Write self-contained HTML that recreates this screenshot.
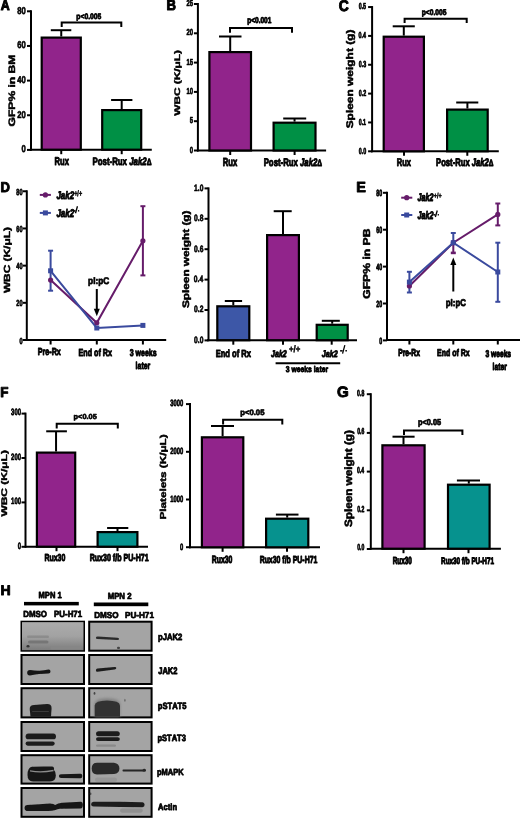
<!DOCTYPE html>
<html><head><meta charset="utf-8"><style>
html,body{margin:0;padding:0;background:#fff;}
svg{display:block;will-change:transform;}
text{font-family:"Liberation Sans",sans-serif;font-kerning:none;text-rendering:geometricPrecision;}
</style></head><body>
<svg width="520" height="819" viewBox="0 0 520 819">
<text transform="translate(0.74,10.18) scale(0.8554,1)" font-size="14.46" fill="#000" stroke="#000" stroke-width="1.049" stroke-linejoin="round" ><tspan font-weight="bold">A</tspan></text>
<line x1="31.00" y1="10.30" x2="31.00" y2="150.70" stroke="#000" stroke-width="2" stroke-linecap="butt"/>
<line x1="27.00" y1="11.30" x2="31.00" y2="11.30" stroke="#000" stroke-width="2" stroke-linecap="butt"/>
<text transform="translate(17.14,13.69) scale(0.7803,1)" font-size="9.85" fill="#000" stroke="#000" stroke-width="0.577" stroke-linejoin="round"><tspan font-weight="bold">80</tspan></text>
<line x1="27.00" y1="45.95" x2="31.00" y2="45.95" stroke="#000" stroke-width="2" stroke-linecap="butt"/>
<text transform="translate(17.14,48.34) scale(0.7803,1)" font-size="9.85" fill="#000" stroke="#000" stroke-width="0.577" stroke-linejoin="round"><tspan font-weight="bold">60</tspan></text>
<line x1="27.00" y1="80.60" x2="31.00" y2="80.60" stroke="#000" stroke-width="2" stroke-linecap="butt"/>
<text transform="translate(17.14,82.99) scale(0.7803,1)" font-size="9.85" fill="#000" stroke="#000" stroke-width="0.577" stroke-linejoin="round"><tspan font-weight="bold">40</tspan></text>
<line x1="27.00" y1="115.25" x2="31.00" y2="115.25" stroke="#000" stroke-width="2" stroke-linecap="butt"/>
<text transform="translate(17.14,117.64) scale(0.7803,1)" font-size="9.85" fill="#000" stroke="#000" stroke-width="0.577" stroke-linejoin="round"><tspan font-weight="bold">20</tspan></text>
<line x1="27.00" y1="149.90" x2="31.00" y2="149.90" stroke="#000" stroke-width="2" stroke-linecap="butt"/>
<text transform="translate(21.42,152.29) scale(0.7803,1)" font-size="9.85" fill="#000" stroke="#000" stroke-width="0.577" stroke-linejoin="round"><tspan font-weight="bold">0</tspan></text>
<line x1="30.00" y1="149.70" x2="151.80" y2="149.70" stroke="#000" stroke-width="2" stroke-linecap="butt"/>
<line x1="61.25" y1="149.70" x2="61.25" y2="154.20" stroke="#000" stroke-width="2" stroke-linecap="butt"/>
<line x1="121.70" y1="149.70" x2="121.70" y2="154.20" stroke="#000" stroke-width="2" stroke-linecap="butt"/>
<rect x="41.70" y="37.60" width="39.10" height="112.10" fill="#91248B" stroke="#000" stroke-width="2.2"/>
<line x1="61.25" y1="30.20" x2="61.25" y2="36.50" stroke="#000" stroke-width="2" stroke-linecap="butt"/>
<line x1="50.80" y1="30.20" x2="71.30" y2="30.20" stroke="#000" stroke-width="2" stroke-linecap="butt"/>
<rect x="102.20" y="110.10" width="39.00" height="39.60" fill="#009045" stroke="#000" stroke-width="2.2"/>
<line x1="121.70" y1="100.00" x2="121.70" y2="109.00" stroke="#000" stroke-width="2" stroke-linecap="butt"/>
<line x1="111.10" y1="100.00" x2="132.40" y2="100.00" stroke="#000" stroke-width="2" stroke-linecap="butt"/>
<polyline fill="none" stroke="#000" stroke-width="2" stroke-linejoin="miter" points="61.70,27.00 61.70,22.50 121.30,22.50 121.30,27.00"/>
<text transform="translate(76.35,19.29) scale(0.8583,1)" font-size="7.89" fill="#000" stroke="#000" stroke-width="0.754" stroke-linejoin="round" ><tspan font-weight="bold">p&lt;0.005</tspan></text>
<text transform="translate(54.59,165.11) scale(0.6686,1)" font-size="11.37" fill="#000" stroke="#000" stroke-width="0.965" stroke-linejoin="round" ><tspan font-weight="bold">Rux</tspan></text>
<text transform="translate(92.47,164.94) scale(0.7315,1)" font-size="10.75" fill="#000" stroke="#000" stroke-width="0.905" stroke-linejoin="round" ><tspan font-weight="bold">Post-Rux </tspan><tspan font-weight="bold" font-style="italic">Jak2</tspan><tspan font-weight="bold" font-size="85%">Δ</tspan></text>
<text transform="translate(14.87,126.50) rotate(-90) scale(1.3060,1)" font-size="9.28" fill="#000" stroke="#000" stroke-width="0.488" stroke-linejoin="round" ><tspan font-weight="bold">GFP% in BM</tspan></text>
<text transform="translate(166.47,10.30) scale(0.8931,1)" font-size="14.69" fill="#000" stroke="#000" stroke-width="0.995" stroke-linejoin="round" ><tspan font-weight="bold">B</tspan></text>
<line x1="197.90" y1="3.00" x2="197.90" y2="151.50" stroke="#000" stroke-width="2" stroke-linecap="butt"/>
<line x1="193.90" y1="4.00" x2="197.90" y2="4.00" stroke="#000" stroke-width="2" stroke-linecap="butt"/>
<text transform="translate(186.45,6.09) scale(0.6820,1)" font-size="8.68" fill="#000" stroke="#000" stroke-width="0.660" stroke-linejoin="round"><tspan font-weight="bold">25</tspan></text>
<line x1="193.90" y1="33.30" x2="197.90" y2="33.30" stroke="#000" stroke-width="2" stroke-linecap="butt"/>
<text transform="translate(186.53,35.39) scale(0.6820,1)" font-size="8.68" fill="#000" stroke="#000" stroke-width="0.660" stroke-linejoin="round"><tspan font-weight="bold">20</tspan></text>
<line x1="193.90" y1="62.60" x2="197.90" y2="62.60" stroke="#000" stroke-width="2" stroke-linecap="butt"/>
<text transform="translate(186.45,64.64) scale(0.6820,1)" font-size="8.68" fill="#000" stroke="#000" stroke-width="0.660" stroke-linejoin="round"><tspan font-weight="bold">15</tspan></text>
<line x1="193.90" y1="91.90" x2="197.90" y2="91.90" stroke="#000" stroke-width="2" stroke-linecap="butt"/>
<text transform="translate(186.53,93.99) scale(0.6820,1)" font-size="8.68" fill="#000" stroke="#000" stroke-width="0.660" stroke-linejoin="round"><tspan font-weight="bold">10</tspan></text>
<line x1="193.90" y1="121.20" x2="197.90" y2="121.20" stroke="#000" stroke-width="2" stroke-linecap="butt"/>
<text transform="translate(189.75,123.24) scale(0.6820,1)" font-size="8.68" fill="#000" stroke="#000" stroke-width="0.660" stroke-linejoin="round"><tspan font-weight="bold">5</tspan></text>
<line x1="193.90" y1="150.50" x2="197.90" y2="150.50" stroke="#000" stroke-width="2" stroke-linecap="butt"/>
<text transform="translate(189.82,152.59) scale(0.6820,1)" font-size="8.68" fill="#000" stroke="#000" stroke-width="0.660" stroke-linejoin="round"><tspan font-weight="bold">0</tspan></text>
<line x1="197.00" y1="150.50" x2="326.10" y2="150.50" stroke="#000" stroke-width="2" stroke-linecap="butt"/>
<line x1="230.20" y1="150.50" x2="230.20" y2="155.00" stroke="#000" stroke-width="2" stroke-linecap="butt"/>
<line x1="294.60" y1="150.50" x2="294.60" y2="155.00" stroke="#000" stroke-width="2" stroke-linecap="butt"/>
<rect x="209.40" y="52.10" width="41.60" height="98.40" fill="#91248B" stroke="#000" stroke-width="2.2"/>
<line x1="230.20" y1="36.50" x2="230.20" y2="51.00" stroke="#000" stroke-width="2" stroke-linecap="butt"/>
<line x1="219.00" y1="36.50" x2="241.50" y2="36.50" stroke="#000" stroke-width="2" stroke-linecap="butt"/>
<rect x="273.60" y="122.70" width="41.90" height="27.80" fill="#009045" stroke="#000" stroke-width="2.2"/>
<line x1="294.55" y1="118.50" x2="294.55" y2="121.60" stroke="#000" stroke-width="2" stroke-linecap="butt"/>
<line x1="283.20" y1="118.50" x2="306.20" y2="118.50" stroke="#000" stroke-width="2" stroke-linecap="butt"/>
<polyline fill="none" stroke="#000" stroke-width="2" stroke-linejoin="miter" points="230.00,32.70 230.00,27.90 292.00,27.90 292.00,32.70"/>
<text transform="translate(247.17,23.33) scale(0.7743,1)" font-size="8.46" fill="#000" stroke="#000" stroke-width="0.838" stroke-linejoin="round" ><tspan font-weight="bold">p&lt;0.001</tspan></text>
<text transform="translate(222.79,165.80) scale(0.6581,1)" font-size="11.64" fill="#000" stroke="#000" stroke-width="0.979" stroke-linejoin="round" ><tspan font-weight="bold">Rux</tspan></text>
<text transform="translate(263.68,165.93) scale(0.7098,1)" font-size="10.98" fill="#000" stroke="#000" stroke-width="0.933" stroke-linejoin="round" ><tspan font-weight="bold">Post-Rux </tspan><tspan font-weight="bold" font-style="italic">Jak2</tspan><tspan font-weight="bold" font-size="85%">Δ</tspan></text>
<text transform="translate(179.50,115.71) rotate(-90) scale(1.4588,1)" font-size="8.12" fill="#000" stroke="#000" stroke-width="0.431" stroke-linejoin="round" ><tspan font-weight="bold">WBC (K/μL)</tspan></text>
<text transform="translate(338.78,10.85) scale(0.8956,1)" font-size="15.54" fill="#000" stroke="#000" stroke-width="0.997" stroke-linejoin="round" ><tspan font-weight="bold">C</tspan></text>
<line x1="372.10" y1="6.05" x2="372.10" y2="152.30" stroke="#000" stroke-width="2" stroke-linecap="butt"/>
<line x1="368.10" y1="7.05" x2="372.10" y2="7.05" stroke="#000" stroke-width="2" stroke-linecap="butt"/>
<text transform="translate(358.63,9.25) scale(0.6180,1)" font-size="8.72" fill="#000" stroke="#000" stroke-width="0.728" stroke-linejoin="round"><tspan font-weight="bold">0.5</tspan></text>
<line x1="368.10" y1="35.90" x2="372.10" y2="35.90" stroke="#000" stroke-width="2" stroke-linecap="butt"/>
<text transform="translate(358.51,38.10) scale(0.6180,1)" font-size="8.72" fill="#000" stroke="#000" stroke-width="0.728" stroke-linejoin="round"><tspan font-weight="bold">0.4</tspan></text>
<line x1="368.10" y1="64.75" x2="372.10" y2="64.75" stroke="#000" stroke-width="2" stroke-linecap="butt"/>
<text transform="translate(358.68,66.95) scale(0.6180,1)" font-size="8.72" fill="#000" stroke="#000" stroke-width="0.728" stroke-linejoin="round"><tspan font-weight="bold">0.3</tspan></text>
<line x1="368.10" y1="93.60" x2="372.10" y2="93.60" stroke="#000" stroke-width="2" stroke-linecap="butt"/>
<text transform="translate(358.70,95.80) scale(0.6180,1)" font-size="8.72" fill="#000" stroke="#000" stroke-width="0.728" stroke-linejoin="round"><tspan font-weight="bold">0.2</tspan></text>
<line x1="368.10" y1="122.45" x2="372.10" y2="122.45" stroke="#000" stroke-width="2" stroke-linecap="butt"/>
<text transform="translate(358.63,124.65) scale(0.6180,1)" font-size="8.72" fill="#000" stroke="#000" stroke-width="0.728" stroke-linejoin="round"><tspan font-weight="bold">0.1</tspan></text>
<line x1="368.10" y1="151.30" x2="372.10" y2="151.30" stroke="#000" stroke-width="2" stroke-linecap="butt"/>
<text transform="translate(358.70,153.50) scale(0.6180,1)" font-size="8.72" fill="#000" stroke="#000" stroke-width="0.728" stroke-linejoin="round"><tspan font-weight="bold">0.0</tspan></text>
<line x1="371.00" y1="151.30" x2="498.80" y2="151.30" stroke="#000" stroke-width="2" stroke-linecap="butt"/>
<line x1="404.00" y1="151.30" x2="404.00" y2="155.80" stroke="#000" stroke-width="2" stroke-linecap="butt"/>
<line x1="467.30" y1="151.30" x2="467.30" y2="155.80" stroke="#000" stroke-width="2" stroke-linecap="butt"/>
<rect x="383.70" y="36.70" width="40.20" height="114.60" fill="#91248B" stroke="#000" stroke-width="2.2"/>
<line x1="403.80" y1="26.30" x2="403.80" y2="35.60" stroke="#000" stroke-width="2" stroke-linecap="butt"/>
<line x1="392.70" y1="26.30" x2="414.80" y2="26.30" stroke="#000" stroke-width="2" stroke-linecap="butt"/>
<rect x="447.10" y="109.60" width="40.60" height="41.70" fill="#009045" stroke="#000" stroke-width="2.2"/>
<line x1="467.40" y1="102.50" x2="467.40" y2="108.50" stroke="#000" stroke-width="2" stroke-linecap="butt"/>
<line x1="456.20" y1="102.50" x2="478.30" y2="102.50" stroke="#000" stroke-width="2" stroke-linecap="butt"/>
<polyline fill="none" stroke="#000" stroke-width="2" stroke-linejoin="miter" points="404.60,23.00 404.60,18.70 466.70,18.70 466.70,23.00"/>
<text transform="translate(421.76,14.51) scale(0.8208,1)" font-size="8.18" fill="#000" stroke="#000" stroke-width="0.789" stroke-linejoin="round" ><tspan font-weight="bold">p&lt;0.005</tspan></text>
<text transform="translate(396.80,166.11) scale(0.6752,1)" font-size="11.10" fill="#000" stroke="#000" stroke-width="0.956" stroke-linejoin="round" ><tspan font-weight="bold">Rux</tspan></text>
<text transform="translate(436.09,166.32) scale(0.6978,1)" font-size="10.96" fill="#000" stroke="#000" stroke-width="0.951" stroke-linejoin="round" ><tspan font-weight="bold">Post-Rux </tspan><tspan font-weight="bold" font-style="italic">Jak2</tspan><tspan font-weight="bold" font-size="85%">Δ</tspan></text>
<text transform="translate(352.51,128.34) rotate(-90) scale(1.2434,1)" font-size="9.60" fill="#000" stroke="#000" stroke-width="0.507" stroke-linejoin="round" ><tspan font-weight="bold">Spleen weight (g)</tspan></text>
<text transform="translate(0.48,191.82) scale(0.9218,1)" font-size="14.15" fill="#000" stroke="#000" stroke-width="0.965" stroke-linejoin="round" ><tspan font-weight="bold">D</tspan></text>
<line x1="26.80" y1="190.28" x2="26.80" y2="341.00" stroke="#000" stroke-width="2" stroke-linecap="butt"/>
<line x1="22.80" y1="191.28" x2="26.80" y2="191.28" stroke="#000" stroke-width="2" stroke-linecap="butt"/>
<text transform="translate(16.25,194.90) scale(0.6417,1)" font-size="8.77" fill="#000" stroke="#000" stroke-width="0.701" stroke-linejoin="round"><tspan font-weight="bold">80</tspan></text>
<line x1="22.80" y1="228.46" x2="26.80" y2="228.46" stroke="#000" stroke-width="2" stroke-linecap="butt"/>
<text transform="translate(16.25,232.08) scale(0.6417,1)" font-size="8.77" fill="#000" stroke="#000" stroke-width="0.701" stroke-linejoin="round"><tspan font-weight="bold">60</tspan></text>
<line x1="22.80" y1="265.64" x2="26.80" y2="265.64" stroke="#000" stroke-width="2" stroke-linecap="butt"/>
<text transform="translate(16.25,269.26) scale(0.6417,1)" font-size="8.77" fill="#000" stroke="#000" stroke-width="0.701" stroke-linejoin="round"><tspan font-weight="bold">40</tspan></text>
<line x1="22.80" y1="302.82" x2="26.80" y2="302.82" stroke="#000" stroke-width="2" stroke-linecap="butt"/>
<text transform="translate(16.25,306.44) scale(0.6417,1)" font-size="8.77" fill="#000" stroke="#000" stroke-width="0.701" stroke-linejoin="round"><tspan font-weight="bold">20</tspan></text>
<line x1="22.80" y1="340.00" x2="26.80" y2="340.00" stroke="#000" stroke-width="2" stroke-linecap="butt"/>
<text transform="translate(19.38,343.62) scale(0.6417,1)" font-size="8.77" fill="#000" stroke="#000" stroke-width="0.701" stroke-linejoin="round"><tspan font-weight="bold">0</tspan></text>
<line x1="26.00" y1="340.00" x2="166.20" y2="340.00" stroke="#000" stroke-width="2" stroke-linecap="butt"/>
<line x1="50.60" y1="340.00" x2="50.60" y2="344.50" stroke="#000" stroke-width="2" stroke-linecap="butt"/>
<line x1="96.80" y1="340.00" x2="96.80" y2="344.50" stroke="#000" stroke-width="2" stroke-linecap="butt"/>
<line x1="142.90" y1="340.00" x2="142.90" y2="344.50" stroke="#000" stroke-width="2" stroke-linecap="butt"/>
<text transform="translate(37.82,355.43) scale(0.7059,1)" font-size="10.12" fill="#000" stroke="#000" stroke-width="0.938" stroke-linejoin="round" ><tspan font-weight="bold">Pre-Rx</tspan></text>
<text transform="translate(78.52,355.63) scale(0.7053,1)" font-size="10.16" fill="#000" stroke="#000" stroke-width="0.941" stroke-linejoin="round" ><tspan font-weight="bold">End of Rx</tspan></text>
<text transform="translate(129.74,355.52) scale(0.7111,1)" font-size="9.88" fill="#000" stroke="#000" stroke-width="0.931" stroke-linejoin="round" ><tspan font-weight="bold">3 weeks</tspan></text>
<text transform="translate(135.61,368.94) scale(0.7020,1)" font-size="9.91" fill="#000" stroke="#000" stroke-width="0.924" stroke-linejoin="round" ><tspan font-weight="bold">later</tspan></text>
<text transform="translate(10.03,293.11) rotate(-90) scale(1.3453,1)" font-size="8.83" fill="#000" stroke="#000" stroke-width="0.467" stroke-linejoin="round" ><tspan font-weight="bold">WBC (K/μL)</tspan></text>
<line x1="50.60" y1="250.70" x2="50.60" y2="290.70" stroke="#3A4A9E" stroke-width="2" stroke-linecap="butt"/>
<line x1="48.10" y1="250.70" x2="53.10" y2="250.70" stroke="#3A4A9E" stroke-width="2" stroke-linecap="butt"/>
<line x1="48.10" y1="290.70" x2="53.10" y2="290.70" stroke="#3A4A9E" stroke-width="2" stroke-linecap="butt"/>
<line x1="142.90" y1="206.20" x2="142.90" y2="275.40" stroke="#661C6A" stroke-width="2" stroke-linecap="butt"/>
<line x1="140.40" y1="206.20" x2="145.40" y2="206.20" stroke="#661C6A" stroke-width="2" stroke-linecap="butt"/>
<line x1="140.40" y1="275.40" x2="145.40" y2="275.40" stroke="#661C6A" stroke-width="2" stroke-linecap="butt"/>
<polyline fill="none" stroke="#661C6A" stroke-width="2" stroke-linejoin="miter" points="50.60,280.10 96.80,322.80 142.90,240.80"/>
<polyline fill="none" stroke="#3A4A9E" stroke-width="2" stroke-linejoin="miter" points="50.60,270.80 96.80,328.00 142.90,325.40"/>
<circle cx="50.60" cy="280.10" r="2.6" fill="#661C6A"/>
<circle cx="96.80" cy="322.80" r="2.6" fill="#661C6A"/>
<circle cx="142.90" cy="240.80" r="2.6" fill="#661C6A"/>
<rect x="48.10" y="268.30" width="5" height="5" fill="#3A4A9E"/>
<rect x="94.30" y="325.50" width="5" height="5" fill="#3A4A9E"/>
<rect x="140.40" y="322.90" width="5" height="5" fill="#3A4A9E"/>
<line x1="96.80" y1="289.00" x2="96.80" y2="310.00" stroke="#000" stroke-width="2" stroke-linecap="butt"/>
<polygon points="93.8,308.8 99.8,308.8 96.8,316.2" fill="#000"/>
<text transform="translate(88.05,284.32) scale(0.8606,1)" font-size="9.68" fill="#000" stroke="#000" stroke-width="0.734" stroke-linejoin="round" ><tspan font-weight="bold">pI:pC</tspan></text>
<line x1="39.80" y1="194.90" x2="50.90" y2="194.90" stroke="#661C6A" stroke-width="2" stroke-linecap="butt"/>
<circle cx="45.40" cy="194.90" r="2.6" fill="#661C6A"/>
<line x1="39.80" y1="212.90" x2="50.90" y2="212.90" stroke="#3A4A9E" stroke-width="2" stroke-linecap="butt"/>
<rect x="42.90" y="210.40" width="5" height="5" fill="#3A4A9E"/>
<text transform="translate(56.40,199.35) scale(0.7318,1)" font-size="10.92" fill="#000" stroke="#000" stroke-width="0.880" stroke-linejoin="round" ><tspan font-weight="bold" font-style="italic">Jak2</tspan></text>
<text transform="translate(74.14,195.68) scale(0.7012,1)" font-size="7.90" fill="#000" stroke="#000" stroke-width="0.519" stroke-linejoin="round" ><tspan font-weight="bold">+/+</tspan></text>
<text transform="translate(56.40,216.64) scale(0.7157,1)" font-size="11.17" fill="#000" stroke="#000" stroke-width="0.900" stroke-linejoin="round" ><tspan font-weight="bold" font-style="italic">Jak2</tspan></text>
<line x1="73.40" y1="210.89" x2="75.55" y2="210.89" stroke="#000" stroke-width="1.5" stroke-linecap="butt"/>
<line x1="75.49" y1="213.20" x2="77.46" y2="206.20" stroke="#000" stroke-width="1.3" stroke-linecap="butt"/>
<line x1="77.92" y1="210.82" x2="79.20" y2="210.82" stroke="#000" stroke-width="1.5" stroke-linecap="butt"/>
<line x1="208.50" y1="187.40" x2="208.50" y2="341.20" stroke="#000" stroke-width="2" stroke-linecap="butt"/>
<line x1="204.50" y1="188.40" x2="208.50" y2="188.40" stroke="#000" stroke-width="2" stroke-linecap="butt"/>
<text transform="translate(194.10,190.87) scale(0.7304,1)" font-size="9.21" fill="#000" stroke="#000" stroke-width="0.616" stroke-linejoin="round"><tspan font-weight="bold">1.0</tspan></text>
<line x1="204.50" y1="218.80" x2="208.50" y2="218.80" stroke="#000" stroke-width="2" stroke-linecap="butt"/>
<text transform="translate(194.03,221.27) scale(0.7304,1)" font-size="9.21" fill="#000" stroke="#000" stroke-width="0.616" stroke-linejoin="round"><tspan font-weight="bold">0.8</tspan></text>
<line x1="204.50" y1="249.20" x2="208.50" y2="249.20" stroke="#000" stroke-width="2" stroke-linecap="butt"/>
<text transform="translate(194.07,251.67) scale(0.7304,1)" font-size="9.21" fill="#000" stroke="#000" stroke-width="0.616" stroke-linejoin="round"><tspan font-weight="bold">0.6</tspan></text>
<line x1="204.50" y1="279.60" x2="208.50" y2="279.60" stroke="#000" stroke-width="2" stroke-linecap="butt"/>
<text transform="translate(193.86,282.07) scale(0.7304,1)" font-size="9.21" fill="#000" stroke="#000" stroke-width="0.616" stroke-linejoin="round"><tspan font-weight="bold">0.4</tspan></text>
<line x1="204.50" y1="310.00" x2="208.50" y2="310.00" stroke="#000" stroke-width="2" stroke-linecap="butt"/>
<text transform="translate(194.09,312.47) scale(0.7304,1)" font-size="9.21" fill="#000" stroke="#000" stroke-width="0.616" stroke-linejoin="round"><tspan font-weight="bold">0.2</tspan></text>
<line x1="204.50" y1="340.40" x2="208.50" y2="340.40" stroke="#000" stroke-width="2" stroke-linecap="butt"/>
<text transform="translate(194.10,342.87) scale(0.7304,1)" font-size="9.21" fill="#000" stroke="#000" stroke-width="0.616" stroke-linejoin="round"><tspan font-weight="bold">0.0</tspan></text>
<line x1="207.00" y1="340.20" x2="357.00" y2="340.20" stroke="#000" stroke-width="2" stroke-linecap="butt"/>
<line x1="233.30" y1="340.20" x2="233.30" y2="344.70" stroke="#000" stroke-width="2" stroke-linecap="butt"/>
<line x1="283.00" y1="340.20" x2="283.00" y2="344.70" stroke="#000" stroke-width="2" stroke-linecap="butt"/>
<line x1="331.70" y1="340.20" x2="331.70" y2="344.70" stroke="#000" stroke-width="2" stroke-linecap="butt"/>
<rect x="217.30" y="306.30" width="32.00" height="33.90" fill="#3D57A7" stroke="#000" stroke-width="2.2"/>
<line x1="233.30" y1="301.00" x2="233.30" y2="305.20" stroke="#000" stroke-width="2" stroke-linecap="butt"/>
<line x1="224.80" y1="301.00" x2="242.10" y2="301.00" stroke="#000" stroke-width="2" stroke-linecap="butt"/>
<rect x="267.10" y="235.10" width="31.80" height="105.10" fill="#91248B" stroke="#000" stroke-width="2.2"/>
<line x1="283.00" y1="211.20" x2="283.00" y2="234.00" stroke="#000" stroke-width="2" stroke-linecap="butt"/>
<line x1="273.70" y1="211.20" x2="291.70" y2="211.20" stroke="#000" stroke-width="2" stroke-linecap="butt"/>
<rect x="316.70" y="324.80" width="31.00" height="15.40" fill="#009045" stroke="#000" stroke-width="2.2"/>
<line x1="332.20" y1="320.80" x2="332.20" y2="323.70" stroke="#000" stroke-width="2" stroke-linecap="butt"/>
<line x1="321.80" y1="320.80" x2="339.80" y2="320.80" stroke="#000" stroke-width="2" stroke-linecap="butt"/>
<text transform="translate(215.69,356.75) scale(0.7305,1)" font-size="10.34" fill="#000" stroke="#000" stroke-width="0.903" stroke-linejoin="round" ><tspan font-weight="bold">End of Rx</tspan></text>
<text transform="translate(271.01,357.36) scale(0.7315,1)" font-size="9.68" fill="#000" stroke="#000" stroke-width="0.888" stroke-linejoin="round" ><tspan font-weight="bold" font-style="italic">Jak2</tspan></text>
<text transform="translate(288.97,352.28) scale(0.8572,1)" font-size="9.16" fill="#000" stroke="#000" stroke-width="0.482" stroke-linejoin="round" ><tspan font-weight="bold">+/+</tspan></text>
<text transform="translate(321.81,357.18) scale(0.7588,1)" font-size="9.46" fill="#000" stroke="#000" stroke-width="0.856" stroke-linejoin="round" ><tspan font-weight="bold" font-style="italic">Jak2</tspan></text>
<line x1="340.10" y1="350.83" x2="342.62" y2="350.83" stroke="#000" stroke-width="1.5" stroke-linecap="butt"/>
<line x1="342.55" y1="353.60" x2="344.86" y2="345.20" stroke="#000" stroke-width="1.3" stroke-linecap="butt"/>
<line x1="345.40" y1="350.74" x2="346.90" y2="350.74" stroke="#000" stroke-width="1.5" stroke-linecap="butt"/>
<line x1="275.60" y1="363.20" x2="340.20" y2="363.20" stroke="#000" stroke-width="2" stroke-linecap="butt"/>
<text transform="translate(285.84,372.49) scale(0.8093,1)" font-size="8.39" fill="#000" stroke="#000" stroke-width="0.829" stroke-linejoin="round" ><tspan font-weight="bold">3 weeks later</tspan></text>
<text transform="translate(188.56,308.04) rotate(-90) scale(1.2567,1)" font-size="9.39" fill="#000" stroke="#000" stroke-width="0.502" stroke-linejoin="round" ><tspan font-weight="bold">Spleen weight (g)</tspan></text>
<text transform="translate(356.28,192.05) scale(0.9832,1)" font-size="14.68" fill="#000" stroke="#000" stroke-width="0.897" stroke-linejoin="round" ><tspan font-weight="bold">E</tspan></text>
<line x1="387.00" y1="191.80" x2="387.00" y2="341.00" stroke="#000" stroke-width="2" stroke-linecap="butt"/>
<line x1="383.00" y1="192.80" x2="387.00" y2="192.80" stroke="#000" stroke-width="2" stroke-linecap="butt"/>
<text transform="translate(376.23,196.39) scale(0.5984,1)" font-size="8.96" fill="#000" stroke="#000" stroke-width="0.752" stroke-linejoin="round"><tspan font-weight="bold">80</tspan></text>
<line x1="383.00" y1="229.70" x2="387.00" y2="229.70" stroke="#000" stroke-width="2" stroke-linecap="butt"/>
<text transform="translate(376.23,233.29) scale(0.5984,1)" font-size="8.96" fill="#000" stroke="#000" stroke-width="0.752" stroke-linejoin="round"><tspan font-weight="bold">60</tspan></text>
<line x1="383.00" y1="266.60" x2="387.00" y2="266.60" stroke="#000" stroke-width="2" stroke-linecap="butt"/>
<text transform="translate(376.23,270.19) scale(0.5984,1)" font-size="8.96" fill="#000" stroke="#000" stroke-width="0.752" stroke-linejoin="round"><tspan font-weight="bold">40</tspan></text>
<line x1="383.00" y1="303.50" x2="387.00" y2="303.50" stroke="#000" stroke-width="2" stroke-linecap="butt"/>
<text transform="translate(376.23,307.09) scale(0.5984,1)" font-size="8.96" fill="#000" stroke="#000" stroke-width="0.752" stroke-linejoin="round"><tspan font-weight="bold">20</tspan></text>
<line x1="383.00" y1="340.40" x2="387.00" y2="340.40" stroke="#000" stroke-width="2" stroke-linecap="butt"/>
<text transform="translate(379.21,343.99) scale(0.5984,1)" font-size="8.96" fill="#000" stroke="#000" stroke-width="0.752" stroke-linejoin="round"><tspan font-weight="bold">0</tspan></text>
<line x1="386.00" y1="340.00" x2="520.00" y2="340.00" stroke="#000" stroke-width="2" stroke-linecap="butt"/>
<line x1="409.40" y1="340.00" x2="409.40" y2="344.50" stroke="#000" stroke-width="2" stroke-linecap="butt"/>
<line x1="453.30" y1="340.00" x2="453.30" y2="344.50" stroke="#000" stroke-width="2" stroke-linecap="butt"/>
<line x1="497.80" y1="340.00" x2="497.80" y2="344.50" stroke="#000" stroke-width="2" stroke-linecap="butt"/>
<text transform="translate(398.25,356.31) scale(0.6704,1)" font-size="10.04" fill="#000" stroke="#000" stroke-width="0.994" stroke-linejoin="round" ><tspan font-weight="bold">Pre-Rx</tspan></text>
<text transform="translate(437.03,356.14) scale(0.7159,1)" font-size="9.76" fill="#000" stroke="#000" stroke-width="0.929" stroke-linejoin="round" ><tspan font-weight="bold">End of Rx</tspan></text>
<text transform="translate(485.45,356.50) scale(0.6806,1)" font-size="9.82" fill="#000" stroke="#000" stroke-width="0.978" stroke-linejoin="round" ><tspan font-weight="bold">3 weeks</tspan></text>
<text transform="translate(492.62,369.93) scale(0.6889,1)" font-size="9.88" fill="#000" stroke="#000" stroke-width="0.943" stroke-linejoin="round" ><tspan font-weight="bold">later</tspan></text>
<text transform="translate(370.24,298.80) rotate(-90) scale(1.2125,1)" font-size="10.04" fill="#000" stroke="#000" stroke-width="0.526" stroke-linejoin="round" ><tspan font-weight="bold">GFP% in PB</tspan></text>
<line x1="409.40" y1="271.80" x2="409.40" y2="292.50" stroke="#3A4A9E" stroke-width="2" stroke-linecap="butt"/>
<line x1="406.90" y1="271.80" x2="411.90" y2="271.80" stroke="#3A4A9E" stroke-width="2" stroke-linecap="butt"/>
<line x1="406.90" y1="292.50" x2="411.90" y2="292.50" stroke="#3A4A9E" stroke-width="2" stroke-linecap="butt"/>
<line x1="453.30" y1="242.70" x2="453.30" y2="252.50" stroke="#661C6A" stroke-width="2" stroke-linecap="butt"/>
<rect x="450.8" y="251.6" width="5" height="2.6" fill="#661C6A"/>
<line x1="453.30" y1="233.00" x2="453.30" y2="242.70" stroke="#3A4A9E" stroke-width="2" stroke-linecap="butt"/>
<line x1="450.80" y1="233.00" x2="455.80" y2="233.00" stroke="#3A4A9E" stroke-width="2" stroke-linecap="butt"/>
<line x1="497.80" y1="203.50" x2="497.80" y2="225.40" stroke="#661C6A" stroke-width="2" stroke-linecap="butt"/>
<line x1="495.30" y1="203.50" x2="500.30" y2="203.50" stroke="#661C6A" stroke-width="2" stroke-linecap="butt"/>
<line x1="495.30" y1="225.40" x2="500.30" y2="225.40" stroke="#661C6A" stroke-width="2" stroke-linecap="butt"/>
<line x1="497.80" y1="242.70" x2="497.80" y2="301.80" stroke="#3A4A9E" stroke-width="2" stroke-linecap="butt"/>
<line x1="495.30" y1="242.70" x2="500.30" y2="242.70" stroke="#3A4A9E" stroke-width="2" stroke-linecap="butt"/>
<line x1="495.30" y1="301.80" x2="500.30" y2="301.80" stroke="#3A4A9E" stroke-width="2" stroke-linecap="butt"/>
<polyline fill="none" stroke="#661C6A" stroke-width="2" stroke-linejoin="miter" points="409.40,286.00 453.30,242.70 497.80,214.40"/>
<polyline fill="none" stroke="#3A4A9E" stroke-width="2" stroke-linejoin="miter" points="409.40,282.10 453.30,242.70 497.80,272.00"/>
<circle cx="409.40" cy="286.00" r="2.6" fill="#661C6A"/>
<circle cx="453.30" cy="242.70" r="2.6" fill="#661C6A"/>
<circle cx="497.80" cy="214.40" r="2.6" fill="#661C6A"/>
<rect x="406.90" y="279.60" width="5" height="5" fill="#3A4A9E"/>
<rect x="450.80" y="240.20" width="5" height="5" fill="#3A4A9E"/>
<rect x="495.30" y="269.50" width="5" height="5" fill="#3A4A9E"/>
<line x1="453.30" y1="264.00" x2="453.30" y2="291.50" stroke="#000" stroke-width="2" stroke-linecap="butt"/>
<polygon points="450.3,265 456.3,265 453.3,257.5" fill="#000"/>
<text transform="translate(445.78,305.56) scale(0.8013,1)" font-size="9.84" fill="#000" stroke="#000" stroke-width="0.791" stroke-linejoin="round" ><tspan font-weight="bold">pI:pC</tspan></text>
<line x1="401.20" y1="197.70" x2="412.30" y2="197.70" stroke="#661C6A" stroke-width="2" stroke-linecap="butt"/>
<circle cx="406.70" cy="197.70" r="2.6" fill="#661C6A"/>
<line x1="401.20" y1="215.00" x2="412.30" y2="215.00" stroke="#3A4A9E" stroke-width="2" stroke-linecap="butt"/>
<rect x="404.20" y="212.50" width="5" height="5" fill="#3A4A9E"/>
<text transform="translate(417.41,201.30) scale(0.6576,1)" font-size="10.91" fill="#000" stroke="#000" stroke-width="0.987" stroke-linejoin="round" ><tspan font-weight="bold" font-style="italic">Jak2</tspan></text>
<text transform="translate(433.75,198.41) scale(0.7514,1)" font-size="7.27" fill="#000" stroke="#000" stroke-width="0.485" stroke-linejoin="round" ><tspan font-weight="bold">+/+</tspan></text>
<text transform="translate(417.41,219.30) scale(0.6576,1)" font-size="10.91" fill="#000" stroke="#000" stroke-width="0.987" stroke-linejoin="round" ><tspan font-weight="bold" font-style="italic">Jak2</tspan></text>
<line x1="433.40" y1="214.85" x2="435.44" y2="214.85" stroke="#000" stroke-width="1.5" stroke-linecap="butt"/>
<line x1="435.38" y1="217.00" x2="437.25" y2="210.50" stroke="#000" stroke-width="1.3" stroke-linecap="butt"/>
<line x1="437.69" y1="214.79" x2="438.90" y2="214.79" stroke="#000" stroke-width="1.5" stroke-linecap="butt"/>
<text transform="translate(0.35,396.83) scale(0.9344,1)" font-size="14.34" fill="#000" stroke="#000" stroke-width="0.931" stroke-linejoin="round" ><tspan font-weight="bold">F</tspan></text>
<line x1="25.50" y1="412.60" x2="25.50" y2="547.70" stroke="#000" stroke-width="2" stroke-linecap="butt"/>
<line x1="21.50" y1="413.60" x2="25.50" y2="413.60" stroke="#000" stroke-width="2" stroke-linecap="butt"/>
<text transform="translate(11.09,415.46) scale(0.6475,1)" font-size="9.19" fill="#000" stroke="#000" stroke-width="0.695" stroke-linejoin="round"><tspan font-weight="bold">300</tspan></text>
<line x1="21.50" y1="458.00" x2="25.50" y2="458.00" stroke="#000" stroke-width="2" stroke-linecap="butt"/>
<text transform="translate(11.09,459.86) scale(0.6475,1)" font-size="9.19" fill="#000" stroke="#000" stroke-width="0.695" stroke-linejoin="round"><tspan font-weight="bold">200</tspan></text>
<line x1="21.50" y1="502.40" x2="25.50" y2="502.40" stroke="#000" stroke-width="2" stroke-linecap="butt"/>
<text transform="translate(11.09,504.26) scale(0.6475,1)" font-size="9.19" fill="#000" stroke="#000" stroke-width="0.695" stroke-linejoin="round"><tspan font-weight="bold">100</tspan></text>
<line x1="21.50" y1="546.80" x2="25.50" y2="546.80" stroke="#000" stroke-width="2" stroke-linecap="butt"/>
<text transform="translate(17.71,548.66) scale(0.6475,1)" font-size="9.19" fill="#000" stroke="#000" stroke-width="0.695" stroke-linejoin="round"><tspan font-weight="bold">0</tspan></text>
<line x1="25.00" y1="546.70" x2="148.00" y2="546.70" stroke="#000" stroke-width="2" stroke-linecap="butt"/>
<line x1="56.50" y1="546.70" x2="56.50" y2="551.20" stroke="#000" stroke-width="2" stroke-linecap="butt"/>
<line x1="117.50" y1="546.70" x2="117.50" y2="551.20" stroke="#000" stroke-width="2" stroke-linecap="butt"/>
<rect x="36.90" y="452.60" width="38.30" height="94.10" fill="#91248B" stroke="#000" stroke-width="2.2"/>
<line x1="56.05" y1="431.30" x2="56.05" y2="451.50" stroke="#000" stroke-width="2" stroke-linecap="butt"/>
<line x1="46.20" y1="431.30" x2="66.90" y2="431.30" stroke="#000" stroke-width="2" stroke-linecap="butt"/>
<rect x="97.60" y="532.10" width="39.80" height="14.60" fill="#06928E" stroke="#000" stroke-width="2.2"/>
<line x1="117.50" y1="528.00" x2="117.50" y2="531.00" stroke="#000" stroke-width="2" stroke-linecap="butt"/>
<line x1="107.10" y1="528.00" x2="128.30" y2="528.00" stroke="#000" stroke-width="2" stroke-linecap="butt"/>
<polyline fill="none" stroke="#000" stroke-width="2" stroke-linejoin="miter" points="56.70,428.50 56.70,423.70 117.80,423.70 117.80,428.50"/>
<text transform="translate(73.61,419.08) scale(1.0178,1)" font-size="7.25" fill="#000" stroke="#000" stroke-width="0.629" stroke-linejoin="round" ><tspan font-weight="bold">p&lt;0.05</tspan></text>
<text transform="translate(44.43,560.81) scale(0.6930,1)" font-size="10.07" fill="#000" stroke="#000" stroke-width="0.953" stroke-linejoin="round" ><tspan font-weight="bold">Rux30</tspan></text>
<text transform="translate(89.63,561.22) scale(0.6996,1)" font-size="10.13" fill="#000" stroke="#000" stroke-width="0.957" stroke-linejoin="round" ><tspan font-weight="bold">Rux30 f/b PU-H71</tspan></text>
<text transform="translate(7.48,516.61) rotate(-90) scale(1.4575,1)" font-size="8.23" fill="#000" stroke="#000" stroke-width="0.431" stroke-linejoin="round" ><tspan font-weight="bold">WBC (K/μL)</tspan></text>
<line x1="190.00" y1="403.10" x2="190.00" y2="548.30" stroke="#000" stroke-width="2" stroke-linecap="butt"/>
<line x1="186.00" y1="404.10" x2="190.00" y2="404.10" stroke="#000" stroke-width="2" stroke-linecap="butt"/>
<text transform="translate(170.32,406.41) scale(0.6444,1)" font-size="9.06" fill="#000" stroke="#000" stroke-width="0.698" stroke-linejoin="round"><tspan font-weight="bold">3000</tspan></text>
<line x1="186.00" y1="451.80" x2="190.00" y2="451.80" stroke="#000" stroke-width="2" stroke-linecap="butt"/>
<text transform="translate(170.32,454.12) scale(0.6444,1)" font-size="9.06" fill="#000" stroke="#000" stroke-width="0.698" stroke-linejoin="round"><tspan font-weight="bold">2000</tspan></text>
<line x1="186.00" y1="499.50" x2="190.00" y2="499.50" stroke="#000" stroke-width="2" stroke-linecap="butt"/>
<text transform="translate(170.32,501.82) scale(0.6444,1)" font-size="9.06" fill="#000" stroke="#000" stroke-width="0.698" stroke-linejoin="round"><tspan font-weight="bold">1000</tspan></text>
<line x1="186.00" y1="547.20" x2="190.00" y2="547.20" stroke="#000" stroke-width="2" stroke-linecap="butt"/>
<text transform="translate(180.07,549.52) scale(0.6444,1)" font-size="9.06" fill="#000" stroke="#000" stroke-width="0.698" stroke-linejoin="round"><tspan font-weight="bold">0</tspan></text>
<line x1="189.00" y1="547.30" x2="320.00" y2="547.30" stroke="#000" stroke-width="2" stroke-linecap="butt"/>
<line x1="222.60" y1="547.30" x2="222.60" y2="551.80" stroke="#000" stroke-width="2" stroke-linecap="butt"/>
<line x1="287.00" y1="547.30" x2="287.00" y2="551.80" stroke="#000" stroke-width="2" stroke-linecap="butt"/>
<rect x="201.90" y="437.30" width="41.40" height="110.00" fill="#91248B" stroke="#000" stroke-width="2.2"/>
<line x1="222.60" y1="426.00" x2="222.60" y2="436.20" stroke="#000" stroke-width="2" stroke-linecap="butt"/>
<line x1="211.00" y1="426.00" x2="234.00" y2="426.00" stroke="#000" stroke-width="2" stroke-linecap="butt"/>
<rect x="266.10" y="518.70" width="42.20" height="28.60" fill="#06928E" stroke="#000" stroke-width="2.2"/>
<line x1="287.20" y1="514.60" x2="287.20" y2="517.60" stroke="#000" stroke-width="2" stroke-linecap="butt"/>
<line x1="275.90" y1="514.60" x2="298.50" y2="514.60" stroke="#000" stroke-width="2" stroke-linecap="butt"/>
<polyline fill="none" stroke="#000" stroke-width="2" stroke-linejoin="miter" points="223.10,424.50 223.10,419.80 282.30,419.80 282.30,424.50"/>
<text transform="translate(240.19,414.64) scale(0.9811,1)" font-size="7.89" fill="#000" stroke="#000" stroke-width="0.651" stroke-linejoin="round" ><tspan font-weight="bold">p&lt;0.05</tspan></text>
<text transform="translate(211.74,562.68) scale(0.6596,1)" font-size="10.43" fill="#000" stroke="#000" stroke-width="1.003" stroke-linejoin="round" ><tspan font-weight="bold">Rux30</tspan></text>
<text transform="translate(259.64,562.61) scale(0.6859,1)" font-size="10.10" fill="#000" stroke="#000" stroke-width="0.978" stroke-linejoin="round" ><tspan font-weight="bold">Rux30 f/b PU-H71</tspan></text>
<text transform="translate(165.78,519.58) rotate(-90) scale(1.3601,1)" font-size="8.62" fill="#000" stroke="#000" stroke-width="0.463" stroke-linejoin="round" ><tspan font-weight="bold">Platelets (K/μL)</tspan></text>
<text transform="translate(337.03,397.21) scale(1.0085,1)" font-size="14.99" fill="#000" stroke="#000" stroke-width="0.889" stroke-linejoin="round" ><tspan font-weight="bold">G</tspan></text>
<line x1="370.80" y1="393.20" x2="370.80" y2="549.70" stroke="#000" stroke-width="2" stroke-linecap="butt"/>
<line x1="366.80" y1="394.20" x2="370.80" y2="394.20" stroke="#000" stroke-width="2" stroke-linecap="butt"/>
<text transform="translate(357.12,395.68) scale(0.5907,1)" font-size="8.66" fill="#000" stroke="#000" stroke-width="0.762" stroke-linejoin="round"><tspan font-weight="bold">0.8</tspan></text>
<line x1="366.80" y1="432.90" x2="370.80" y2="432.90" stroke="#000" stroke-width="2" stroke-linecap="butt"/>
<text transform="translate(357.15,434.38) scale(0.5907,1)" font-size="8.66" fill="#000" stroke="#000" stroke-width="0.762" stroke-linejoin="round"><tspan font-weight="bold">0.6</tspan></text>
<line x1="366.80" y1="471.60" x2="370.80" y2="471.60" stroke="#000" stroke-width="2" stroke-linecap="butt"/>
<text transform="translate(356.99,473.08) scale(0.5907,1)" font-size="8.66" fill="#000" stroke="#000" stroke-width="0.762" stroke-linejoin="round"><tspan font-weight="bold">0.4</tspan></text>
<line x1="366.80" y1="510.30" x2="370.80" y2="510.30" stroke="#000" stroke-width="2" stroke-linecap="butt"/>
<text transform="translate(357.17,511.78) scale(0.5907,1)" font-size="8.66" fill="#000" stroke="#000" stroke-width="0.762" stroke-linejoin="round"><tspan font-weight="bold">0.2</tspan></text>
<line x1="366.80" y1="549.00" x2="370.80" y2="549.00" stroke="#000" stroke-width="2" stroke-linecap="butt"/>
<text transform="translate(357.18,550.48) scale(0.5907,1)" font-size="8.66" fill="#000" stroke="#000" stroke-width="0.762" stroke-linejoin="round"><tspan font-weight="bold">0.0</tspan></text>
<line x1="370.00" y1="548.70" x2="500.90" y2="548.70" stroke="#000" stroke-width="2" stroke-linecap="butt"/>
<line x1="403.50" y1="548.70" x2="403.50" y2="553.20" stroke="#000" stroke-width="2" stroke-linecap="butt"/>
<line x1="468.50" y1="548.70" x2="468.50" y2="553.20" stroke="#000" stroke-width="2" stroke-linecap="butt"/>
<rect x="382.40" y="445.30" width="42.20" height="103.40" fill="#91248B" stroke="#000" stroke-width="2.2"/>
<line x1="403.50" y1="436.70" x2="403.50" y2="444.20" stroke="#000" stroke-width="2" stroke-linecap="butt"/>
<line x1="392.50" y1="436.70" x2="414.60" y2="436.70" stroke="#000" stroke-width="2" stroke-linecap="butt"/>
<rect x="448.00" y="484.70" width="41.60" height="64.00" fill="#06928E" stroke="#000" stroke-width="2.2"/>
<line x1="468.80" y1="480.50" x2="468.80" y2="483.60" stroke="#000" stroke-width="2" stroke-linecap="butt"/>
<line x1="456.90" y1="480.50" x2="480.00" y2="480.50" stroke="#000" stroke-width="2" stroke-linecap="butt"/>
<polyline fill="none" stroke="#000" stroke-width="2" stroke-linejoin="miter" points="404.00,435.00 404.00,430.40 462.40,430.40 462.40,435.00"/>
<text transform="translate(418.02,425.15) scale(0.8586,1)" font-size="8.56" fill="#000" stroke="#000" stroke-width="0.746" stroke-linejoin="round" ><tspan font-weight="bold">p&lt;0.05</tspan></text>
<text transform="translate(392.77,563.74) scale(0.6165,1)" font-size="10.31" fill="#000" stroke="#000" stroke-width="1.082" stroke-linejoin="round" ><tspan font-weight="bold">Rux30</tspan></text>
<text transform="translate(441.07,563.81) scale(0.6766,1)" font-size="9.40" fill="#000" stroke="#000" stroke-width="1.002" stroke-linejoin="round" ><tspan font-weight="bold">Rux30 f/b PU-H71</tspan></text>
<text transform="translate(352.49,527.04) rotate(-90) scale(1.1150,1)" font-size="10.50" fill="#000" stroke="#000" stroke-width="0.566" stroke-linejoin="round" ><tspan font-weight="bold">Spleen weight (g)</tspan></text>
<text transform="translate(0.41,594.77) scale(1.0192,1)" font-size="13.85" fill="#000" stroke="#000" stroke-width="0.869" stroke-linejoin="round" ><tspan font-weight="bold">H</tspan></text>
<text transform="translate(38.60,598.42) scale(0.8587,1)" font-size="8.77" fill="#000" stroke="#000" stroke-width="0.767" stroke-linejoin="round" ><tspan font-weight="bold">MPN 1</tspan></text>
<rect x="24" y="601.9" width="54.8" height="3.5" fill="#000"/>
<text transform="translate(107.68,599.23) scale(0.8841,1)" font-size="8.82" fill="#000" stroke="#000" stroke-width="0.741" stroke-linejoin="round" ><tspan font-weight="bold">MPN 2</tspan></text>
<rect x="93.8" y="602.5" width="54.5" height="3.7" fill="#000"/>
<text transform="translate(23.17,617.45) scale(0.8944,1)" font-size="8.86" fill="#000" stroke="#000" stroke-width="0.730" stroke-linejoin="round" ><tspan font-weight="bold">DMSO</tspan></text>
<text transform="translate(54.07,617.44) scale(0.8799,1)" font-size="8.96" fill="#000" stroke="#000" stroke-width="0.747" stroke-linejoin="round" ><tspan font-weight="bold">PU-H71</tspan></text>
<text transform="translate(94.16,617.87) scale(0.9421,1)" font-size="8.63" fill="#000" stroke="#000" stroke-width="0.691" stroke-linejoin="round" ><tspan font-weight="bold">DMSO</tspan></text>
<text transform="translate(124.96,617.86) scale(0.9322,1)" font-size="8.74" fill="#000" stroke="#000" stroke-width="0.703" stroke-linejoin="round" ><tspan font-weight="bold">PU-H71</tspan></text>
<defs><filter id="bl" x="-20%" y="-50%" width="140%" height="200%"><feGaussianBlur stdDeviation="0.6"/></filter><filter id="bl2" x="-20%" y="-50%" width="140%" height="200%"><feGaussianBlur stdDeviation="1.6"/></filter></defs>
<rect x="21.50" y="621.70" width="62.50" height="29.00" fill="#a4a4a4" stroke="#000" stroke-width="2"/>
<rect x="89.20" y="621.70" width="62.40" height="29.00" fill="#a4a4a4" stroke="#000" stroke-width="2"/>
<rect x="21.50" y="655.00" width="62.50" height="29.00" fill="#a4a4a4" stroke="#000" stroke-width="2"/>
<rect x="89.20" y="655.00" width="62.40" height="29.00" fill="#a4a4a4" stroke="#000" stroke-width="2"/>
<rect x="21.50" y="688.20" width="62.50" height="29.20" fill="#a4a4a4" stroke="#000" stroke-width="2"/>
<rect x="89.20" y="688.20" width="62.40" height="29.20" fill="#a4a4a4" stroke="#000" stroke-width="2"/>
<rect x="21.50" y="722.00" width="62.50" height="29.00" fill="#a4a4a4" stroke="#000" stroke-width="2"/>
<rect x="89.20" y="722.00" width="62.40" height="29.00" fill="#a4a4a4" stroke="#000" stroke-width="2"/>
<rect x="21.50" y="755.20" width="62.50" height="28.40" fill="#a4a4a4" stroke="#000" stroke-width="2"/>
<rect x="89.20" y="755.20" width="62.40" height="28.40" fill="#a4a4a4" stroke="#000" stroke-width="2"/>
<rect x="21.50" y="788.00" width="62.50" height="28.80" fill="#a4a4a4" stroke="#000" stroke-width="2"/>
<rect x="89.20" y="788.00" width="62.40" height="28.80" fill="#a4a4a4" stroke="#000" stroke-width="2"/>
<defs><linearGradient id="gj" x1="0" y1="0" x2="0" y2="1"><stop offset="0" stop-color="#acacac"/><stop offset="0.5" stop-color="#a2a2a2"/><stop offset="1" stop-color="#7c7c7c"/></linearGradient></defs>
<rect x="22" y="622.2" width="61.5" height="28" fill="url(#gj)"/>
<rect x="27.00" y="635.55" width="22.00" height="2.50" rx="1.25" fill="#8c8c8c" filter="url(#bl)"/>
<rect x="28.00" y="640.40" width="20.50" height="3.20" rx="1.60" fill="#767676" filter="url(#bl)"/>
<rect x="26.50" y="645.05" width="3.00" height="2.50" rx="1.25" fill="#333" filter="url(#bl)"/>
<rect x="50.00" y="645.75" width="32.00" height="3.50" rx="1.75" fill="#868686" filter="url(#bl)"/>
<path d="M95.9,637.8 Q96,636.4 98,636.5 L117.5,637.7 Q119.2,638 119.1,639 Q119,640.2 117,640 L97.5,639.1 Q95.8,639 95.9,637.8 Z" fill="#2a2a2a" filter="url(#bl)"/>
<rect x="117.00" y="646.80" width="3.00" height="2.20" rx="1.10" fill="#444" filter="url(#bl)"/>
<path d="M27.2,672.8 Q27.2,670.1 30,670.1 Q34,670.6 39,670.8 Q45,670.6 48.3,669.5 Q50.5,669.3 50.5,671.4 Q50.5,673.5 48.3,673.4 Q44,673.5 39,673.9 Q33,674.4 30,675.4 Q27.2,675.5 27.2,672.8 Z" fill="#141414" filter="url(#bl)"/>
<path d="M95.9,670.2 Q95.9,668.7 97.5,668.6 L114.5,666.9 Q116.4,666.8 116.3,668.1 Q116.3,669.4 114.5,669.4 L97.5,671.8 Q95.9,671.9 95.9,670.2 Z" fill="#1c1c1c" filter="url(#bl)"/>
<path d="M29.7,709 Q29.7,705.2 34,705.0 Q40,704.5 47,703.9 Q51.6,703.7 51.6,708 L51,716.8 L30.5,716.8 Z" fill="#1e1e1e" filter="url(#bl)"/>
<rect x="32.00" y="711.10" width="17.00" height="0.80" rx="0.40" fill="#3a3a3a" filter="url(#bl)"/>
<path d="M94.6,716.8 L94.6,704 Q95,698.5 107,698.3 Q119.6,698.5 120,704 L120,716.8 Z" fill="#808080" filter="url(#bl2)"/>
<path d="M94.7,716.8 L94.7,705.5 Q95,700.8 107,700.6 Q119.7,700.8 120,705.5 L120,716.8 Z" fill="#333333" filter="url(#bl)"/>
<rect x="93.60" y="692.10" width="1.80" height="2.60" rx="1.30" fill="#444" filter="url(#bl)"/>
<rect x="124.20" y="698.80" width="1.40" height="3.00" rx="1.50" fill="#6a6a6a" filter="url(#bl)"/>
<rect x="25.60" y="733.50" width="30.40" height="5.80" rx="2.90" fill="#1e1e1e" filter="url(#bl)"/>
<rect x="25.60" y="741.50" width="29.10" height="4.20" rx="2.10" fill="#1e1e1e" filter="url(#bl)"/>
<rect x="96.00" y="731.20" width="23.80" height="5.00" rx="2.50" fill="#1e1e1e" filter="url(#bl)"/>
<rect x="96.00" y="737.20" width="23.80" height="3.80" rx="1.90" fill="#1e1e1e" filter="url(#bl)"/>
<rect x="96.00" y="744.40" width="20.00" height="2.40" rx="1.20" fill="#8a8a8a" filter="url(#bl)"/>
<path d="M27.5,775 Q27.5,767.5 32,766.8 Q41,766.2 52,766.6 Q54.5,767 54,770 Q55.8,771.5 55.8,775.5 Q55.8,781.4 50,781.4 L33,781.4 Q27.5,781.4 27.5,775 Z" fill="#151515" filter="url(#bl)"/>
<path d="M30,770.2 Q41,772.4 53.5,769.8 L53.5,771.2 Q41,773.8 30,771.6 Z" fill="#8c8c8c" filter="url(#bl)"/>
<path d="M58.9,776.1 Q58.9,774.2 61,774.2 L80.5,773.8 Q82.3,773.8 82.3,776 Q82.3,778.3 80.5,778.3 L61,778 Q58.9,778 58.9,776.1 Z" fill="#181818" filter="url(#bl)"/>
<path d="M91.7,768.6 Q91.7,762.8 97,762.8 L114,762.8 Q119.4,763.5 119.4,768.6 Q119.4,773.5 114,774 L97,774.5 Q91.7,774.5 91.7,768.6 Z" fill="#2a2a2a" filter="url(#bl)"/>
<rect x="122.50" y="769.60" width="21.50" height="1.80" rx="0.90" fill="#262626" filter="url(#bl)"/>
<rect x="142.50" y="768.80" width="3.50" height="3.00" rx="1.50" fill="#262626" filter="url(#bl)"/>
<rect x="95.00" y="777.55" width="22.00" height="4.50" rx="2.25" fill="#979797" filter="url(#bl)"/>
<path d="M24.5,807.7 Q24.5,805.2 27,805 Q40,804.3 50,803.5 Q54,803.5 55.2,805 Q58,803 62,802.8 L81,801.8 Q82.9,801.8 82.9,804.5 Q82.9,808.4 80.5,808.5 L60,808.8 Q57,809 55.5,810 Q52,811.1 48,811.1 L28,811.1 Q24.5,811 24.5,807.7 Z" fill="#171717" filter="url(#bl)"/>
<path d="M91.1,804.2 Q91.1,801.7 93.5,801.7 L120,801.8 L142.5,802.3 Q144.6,802.5 144.6,804.8 Q144.6,807.2 142.5,807.2 L120,806.9 L93.5,806.6 Q91.1,806.6 91.1,804.2 Z" fill="#1e1e1e" filter="url(#bl)"/>
<rect x="120.00" y="808.50" width="22.80" height="4.20" rx="2.10" fill="#909090" filter="url(#bl)"/>
<rect x="89.80" y="792.50" width="1.60" height="2.40" rx="1.20" fill="#444" filter="url(#bl)"/>
<text transform="translate(157.99,639.73) scale(0.8435,1)" font-size="9.10" fill="#000" stroke="#000" stroke-width="0.757" stroke-linejoin="round" ><tspan font-weight="bold">pJAK2</tspan></text>
<text transform="translate(158.19,673.59) scale(0.7795,1)" font-size="9.69" fill="#000" stroke="#000" stroke-width="0.837" stroke-linejoin="round" ><tspan font-weight="bold">JAK2</tspan></text>
<text transform="translate(157.80,708.50) scale(0.8271,1)" font-size="9.19" fill="#000" stroke="#000" stroke-width="0.777" stroke-linejoin="round" ><tspan font-weight="bold">pSTAT5</tspan></text>
<text transform="translate(157.40,741.20) scale(0.8234,1)" font-size="9.19" fill="#000" stroke="#000" stroke-width="0.780" stroke-linejoin="round" ><tspan font-weight="bold">pSTAT3</tspan></text>
<text transform="translate(157.01,774.88) scale(0.8459,1)" font-size="8.87" fill="#000" stroke="#000" stroke-width="0.760" stroke-linejoin="round" ><tspan font-weight="bold">pMAPK</tspan></text>
<text transform="translate(158.11,810.02) scale(0.8290,1)" font-size="9.15" fill="#000" stroke="#000" stroke-width="0.782" stroke-linejoin="round" ><tspan font-weight="bold">Actin</tspan></text>
</svg>
</body></html>
